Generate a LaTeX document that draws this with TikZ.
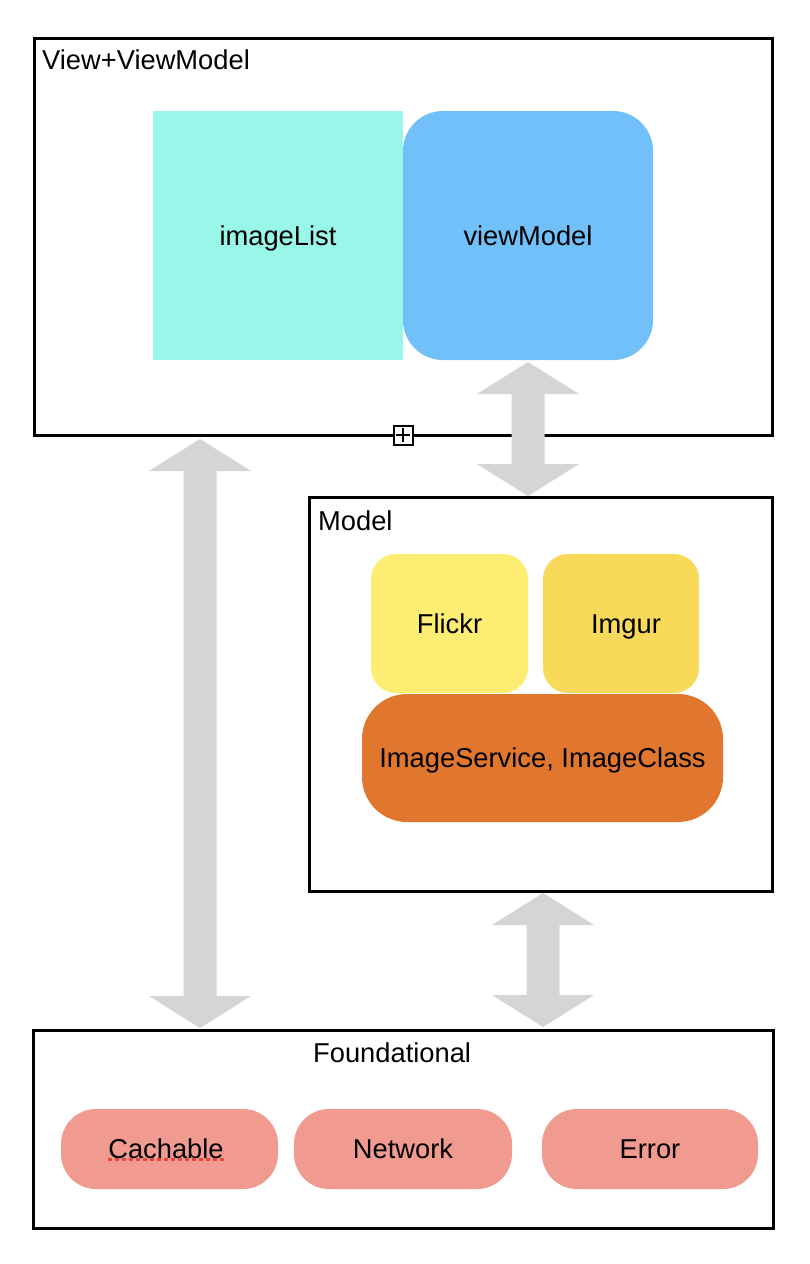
\documentclass[tikz,border=0pt]{standalone}
\usepackage{fontspec}
\setmainfont{Liberation Sans}
\usetikzlibrary{calc}
\definecolor{cList}{HTML}{99F7E9}
\definecolor{cVM}{HTML}{71C0FA}
\definecolor{cFlickr}{HTML}{FDEE73}
\definecolor{cImgur}{HTML}{F8D95A}
\definecolor{cService}{HTML}{E1772F}
\definecolor{cFound}{HTML}{F09A90}
\definecolor{cArrow}{HTML}{D5D5D5}
\definecolor{cSpell}{HTML}{E9473B}
\newcommand\dgfont{\fontsize{27.3}{32}\selectfont}
\newcommand\dblarr[2]{%
  \fill[cArrow] let \p1=(#1), \p2=(#2) in
    (\x1,\y1) -- (\x1+51pt,\y1-32pt) -- (\x1+16.5pt,\y1-32pt) -- (\x1+16.5pt,\y2+32pt)
    -- (\x1+51pt,\y2+32pt) -- (\x2,\y2) -- (\x1-51pt,\y2+32pt) -- (\x1-16.5pt,\y2+32pt)
    -- (\x1-16.5pt,\y1-32pt) -- (\x1-51pt,\y1-32pt) -- cycle;}
\begin{document}
\begin{tikzpicture}[x=1pt,y=-1pt,
  container/.style={draw=black, line width=3pt, inner sep=0pt, fill=white},
  comp/.style={inner sep=0pt, font=\dgfont, text=black, text height=19.5pt, text depth=0pt},
  title/.style={inner sep=0pt, font=\dgfont, text=black, anchor=base west}]
\useasboundingbox (0,0) rectangle (810,1264);
\fill[white] (0,0) rectangle (810,1264);

% containers
\node[container, minimum width=738pt, minimum height=397pt] (vvm) at (403,236.5) {};
\node[container, minimum width=463pt, minimum height=394pt] (model) at (540.5,694) {};
\node[container, minimum width=740pt, minimum height=198pt] (found) at (403,1129) {};

% titles
\node[title] (tvvm) at (42,69) {View+ViewModel};
\node[title] (tmodel) at (318,530) {Model};
\node[title] (tfound) at (313,1062) {Foundational};

% components
\node[comp, fill=cList, minimum width=250pt, minimum height=249pt] (list) at (278,235.5) {imageList};
\node[comp, fill=cVM, rounded corners=40pt, minimum width=250pt, minimum height=249pt] (vm) at (528,235.5) {viewModel};
\node[comp, fill=cFlickr, rounded corners=25pt, minimum width=157pt, minimum height=139pt] (flickr) at (449.5,623.5) {Flickr};
\node[comp, fill=cImgur, rounded corners=25pt, minimum width=156pt, minimum height=139pt] (imgur) at (621,623.5) {\hspace*{10pt}Imgur};
\node[comp, fill=cService, rounded corners=45pt, minimum width=361pt, minimum height=128pt] (service) at (542.5,758) {ImageService, ImageClass};
\node[comp, fill=cFound, rounded corners=35pt, minimum width=217pt, minimum height=80pt] (cach) at (169.5,1149) {Cachable\hspace*{7pt}};
\node[comp, fill=cFound, rounded corners=35pt, minimum width=218pt, minimum height=80pt] (net) at (403,1149) {Network};
\node[comp, fill=cFound, rounded corners=35pt, minimum width=216pt, minimum height=80pt] (err) at (650,1149) {Error};

% spell-check underline
\draw[cSpell, line width=3pt, dash pattern=on 4pt off 3pt] ($(cach.center)+(-61.5,10)$) -- ($(cach.center)+(54.5,10)$);

% double arrows
\coordinate (a1t) at (200,439);
\coordinate (a1b) at (200,1028);
\coordinate (a2t) at (528,362);
\coordinate (a2b) at (528,496);
\coordinate (a3t) at (543,893);
\coordinate (a3b) at (543,1027);
\dblarr{a1t}{a1b}
\dblarr{a2t}{a2b}
\dblarr{a3t}{a3b}

% expand marker
\node[draw=black, line width=2pt, fill=white, minimum size=19pt, inner sep=0pt] (pm) at (403,435) {};
\draw[line width=2pt] ($(pm.center)+(-7,0)$) -- ($(pm.center)+(7,0)$);
\draw[line width=2pt] ($(pm.center)+(0,-7)$) -- ($(pm.center)+(0,7)$);
\end{tikzpicture}
\end{document}
